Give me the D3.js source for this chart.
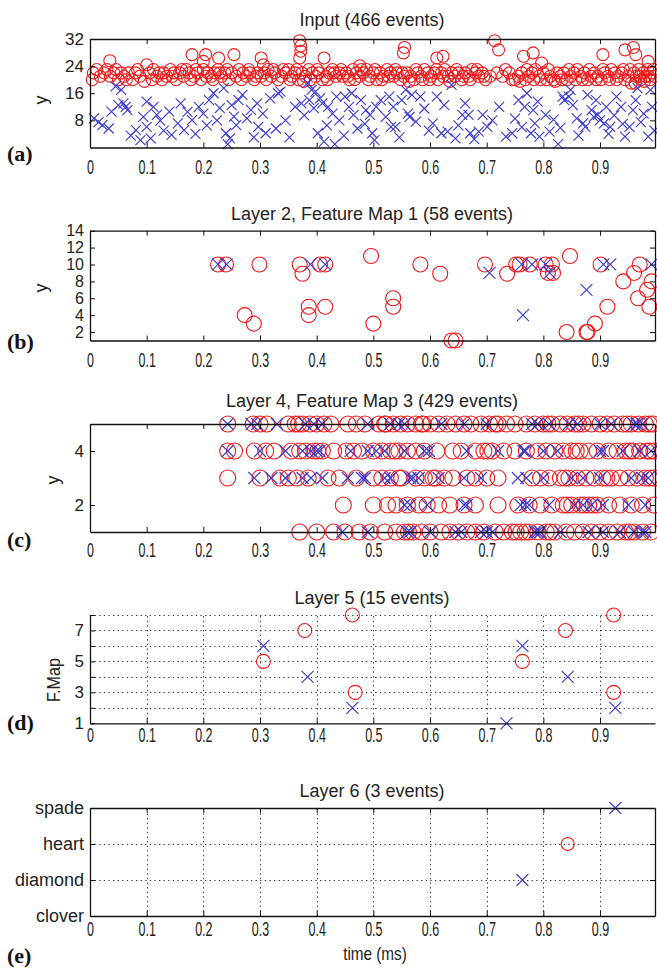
<!DOCTYPE html>
<html>
<head>
<meta charset="utf-8">
<script src="https://cdn.jsdelivr.net/npm/d3@7"></script>
<style>
  body { margin: 0; background: #fff; }
  text { font-family: "Liberation Sans", Arial, sans-serif; fill: #222; }
  .letter { font-family: "Liberation Serif", "Times New Roman", serif; font-weight: bold; fill: #111; }
</style>
</head>
<body>
<script>
// ---- data ----
const xTicks = [0, 0.1, 0.2, 0.3, 0.4, 0.5, 0.6, 0.7, 0.8, 0.9]

// (a) input events [time, y]
const inputOn = [
  [0.004,20],[0.006,22],[0.018,21],[0.025,22],[0.03,23],[0.036,21],[0.042,22],[0.05,20],[0.055,22],[0.06,21],
  [0.068,22],[0.075,20],[0.08,22],[0.088,21],[0.096,19.5],[0.105,22],[0.112,23],[0.118,21],[0.122,22],[0.13,22],
  [0.135,21],[0.142,23],[0.148,22],[0.152,20],[0.158,22],[0.165,21],[0.17,23],[0.175,22],[0.183,21],[0.19,22],
  [0.196,20],[0.2,23],[0.208,22],[0.214,21],[0.22,22],[0.226,23],[0.232,21],[0.238,22],[0.245,20],[0.25,22],
  [0.258,21],[0.263,23],[0.27,22],[0.276,21],[0.282,22],[0.29,20],[0.296,22],[0.302,21],[0.308,22],[0.314,23],
  [0.32,21],[0.326,22],[0.332,20],[0.338,21],[0.345,22],[0.35,23],[0.356,21],[0.362,22],[0.368,20],[0.374,22],
  [0.38,21],[0.386,23],[0.392,22],[0.398,21],[0.404,22],[0.41,20],[0.416,21],[0.422,22],[0.428,23],[0.434,21],
  [0.44,22],[0.446,21],[0.452,22],[0.458,20],[0.464,23],[0.47,22],[0.476,21],[0.482,22],[0.488,23],[0.494,21],
  [0.5,22],[0.506,20],[0.512,22],[0.518,21],[0.524,23],[0.53,22],[0.536,21],[0.542,22],[0.548,20],[0.554,21],
  [0.56,22],[0.566,21],[0.572,20],[0.578,22],[0.584,21],[0.59,23],[0.596,22],[0.602,21],[0.608,22],[0.614,20],
  [0.62,22],[0.626,23],[0.632,21],[0.638,22],[0.644,21],[0.65,22],[0.656,20],[0.662,22],[0.668,21],[0.674,23],
  [0.68,22],[0.686,21],[0.692,22],[0.698,20],[0.706,21],[0.718,22],[0.728,21],[0.74,22],[0.75,20],[0.756,21],
  [0.762,22],[0.768,20],[0.774,21],[0.78,22],[0.786,23],[0.792,21],[0.8,22],[0.806,20],[0.812,21],[0.818,20],
  [0.824,22],[0.83,21],[0.836,22],[0.842,20],[0.848,21],[0.854,22],[0.86,23],[0.866,21],[0.872,22],[0.878,20],
  [0.884,21],[0.89,22],[0.896,21],[0.902,20],[0.908,22],[0.914,21],[0.92,23],[0.926,22],[0.932,21],[0.938,22],
  [0.944,20],[0.95,21],[0.955,19],[0.96,22],[0.964,21],[0.968,23],[0.972,20],[0.976,22],[0.98,21],[0.984,23],
  [0.988,20],[0.992,22],[0.996,21],
  [0.012,23],[0.046,23],[0.064,20],[0.084,23],[0.11,20],[0.127,20],[0.145,21],[0.162,23],[0.178,20],[0.187,23],
  [0.205,21],[0.217,20],[0.229,22],[0.242,23],[0.267,20],[0.28,23],[0.293,21],[0.311,20],[0.323,23],[0.341,23],
  [0.353,20],[0.365,23],[0.377,19.5],[0.389,20],[0.401,23],[0.419,20],[0.431,22],[0.443,23],[0.455,21],[0.467,20],
  [0.479,23],[0.491,20],[0.503,23],[0.515,20],[0.527,21],[0.539,23],[0.551,22],[0.563,19.5],[0.575,23],[0.587,20],
  [0.599,20],[0.611,23],[0.623,21],[0.635,19.5],[0.647,23],[0.659,21],[0.671,20],[0.683,23],[0.695,21],[0.733,23],
  [0.745,20],[0.759,19.5],[0.771,23],[0.783,20],[0.795,20],[0.809,23],[0.821,19.5],[0.833,20],[0.845,23],[0.857,20],
  [0.869,20],[0.881,23],[0.893,20],[0.905,23],[0.917,20],[0.929,20],[0.941,23],[0.953,23],[0.962,19],[0.97,21],
  [0.978,19.5],[0.986,21],[0.994,23],
  [0.035,25.6],[0.1,24.4],[0.18,27.4],[0.204,27.4],[0.2,25.4],[0.227,26.4],[0.254,27.4],[0.302,26.4],[0.306,24.4],
  [0.37,31.5],[0.372,30],[0.372,28.4],[0.37,26.4],[0.413,26.4],[0.476,24.1],[0.553,27.9],[0.555,29.5],[0.612,26.4],
  [0.623,26.9],[0.714,31.5],[0.721,28.8],[0.765,26.9],[0.782,27.9],[0.797,24.9],[0.905,27.4],[0.944,28.8],
  [0.959,29.5],[0.963,27.4],[0.985,25.4]
]
const inputOff = [
  [0.007,8.6],[0.022,6.6],[0.038,10.6],[0.055,17],[0.063,12],[0.059,13],[0.066,11],[0.033,5.6],[0.081,5.1],[0.089,2.2],
  [0.1,6.1],[0.107,2.7],[0.1,13.5],[0.124,7.9],[0.118,9.6],[0.14,10.6],[0.144,3.7],[0.155,7.1],[0.166,5.1],[0.18,8.1],
  [0.192,12],[0.2,10],[0.21,14],[0.218,16],[0.229,11.6],[0.236,17.5],[0.24,4.2],[0.247,2.7],[0.243,1],[0.254,9.1],
  [0.258,6.6],[0.269,15.5],[0.277,8.6],[0.284,11.1],[0.295,13],[0.297,6.1],[0.31,4.2],[0.328,5.6],[0.332,16],[0.336,16.5],
  [0.362,12],[0.373,13],[0.384,19],[0.387,14],[0.391,17],[0.395,11.6],[0.402,4.2],[0.406,14.5],[0.413,1.7],[0.42,12],
  [0.428,10],[0.432,1],[0.435,15],[0.45,15],[0.457,12],[0.465,9.6],[0.472,5.6],[0.478,14],[0.487,11],[0.494,9.6],
  [0.502,2.2],[0.498,4.2],[0.513,14],[0.531,6.1],[0.535,12],[0.539,6.1],[0.55,14],[0.557,17],[0.561,10],[0.564,9],
  [0.575,7.6],[0.583,15],[0.605,7.1],[0.612,15],[0.62,4.2],[0.631,4.7],[0.638,18.5],[0.645,2.7],[0.657,9.6],[0.668,9.6],
  [0.671,4.2],[0.686,4.7],[0.693,9.6],[0.701,6.1],[0.734,3.2],[0.745,4.2],[0.756,14],[0.767,12],[0.771,16],[0.782,11],
  [0.785,7.1],[0.778,4.2],[0.793,3.2],[0.804,9.6],[0.811,4.7],[0.826,1],[0.834,15],[0.837,14],[0.845,15],[0.848,17],
  [0.859,8.6],[0.87,7.1],[0.874,6.1],[0.878,15.5],[0.885,11],[0.889,9],[0.896,9.6],[0.9,8.1],[0.907,7.1],[0.911,12],
  [0.918,6.1],[0.929,15],[0.937,12],[0.944,3.2],[0.952,6.1],[0.963,14],[0.966,17.5],[0.977,10],[0.985,3.2],[0.992,12],
  [0.989,17],
  [0.015,7.5],[0.045,18],[0.05,12.5],[0.072,3.5],[0.094,9],[0.112,12],[0.13,5],[0.16,13],[0.172,10.5],[0.186,4],
  [0.206,6.5],[0.224,8],[0.25,12.5],[0.262,14],[0.289,3],[0.305,10],[0.318,14.5],[0.345,8],[0.352,3],[0.378,9.5],
  [0.398,16.5],[0.41,13],[0.418,6.5],[0.44,8],[0.448,3.5],[0.462,16],[0.485,7],[0.505,12],[0.522,9],[0.528,15],
  [0.546,3],[0.568,15.5],[0.59,11.5],[0.598,5],[0.625,12.5],[0.65,6.5],[0.662,13],[0.678,2.5],[0.71,8],[0.722,12],
  [0.75,8.5],[0.762,6],[0.79,13.5],[0.818,8.2],[0.83,5.8],[0.852,12.5],[0.862,3.5],[0.893,14],[0.915,4],[0.925,9.5],
  [0.94,7],[0.958,11],[0.972,7.5],[0.996,5]
]

// (b) layer 2, feature map 1
const l2On = [
  [0.226,10],[0.24,10],[0.299,10],[0.37,10],[0.375,8.9],[0.406,10],[0.415,10],[0.386,5],[0.386,4],[0.415,5],
  [0.273,4],[0.289,3],[0.496,11],[0.5,3],[0.535,6],[0.535,5],[0.583,10],[0.618,8.9],[0.638,1],[0.645,1],
  [0.697,10],[0.736,8.9],[0.752,10],[0.758,10],[0.776,10],[0.804,10],[0.815,10],[0.808,9],[0.817,9],[0.841,2],
  [0.847,11],[0.876,2],[0.878,2],[0.891,3],[0.901,10],[0.913,5],[0.941,8],[0.96,9],[0.97,10],[0.967,6],
  [0.983,7],[0.987,5],[0.991,8]
]
const l2Off = [
  [0.226,10],[0.241,10],[0.389,10],[0.415,10],[0.705,9],[0.762,10],[0.78,10],[0.804,10],[0.811,9],[0.764,4],
  [0.876,7],[0.906,10],[0.918,10],[0.991,10]
]

// (c) layer 4, feature map 3: event times per y row
const l4On5 = [0.243,0.288,0.3,0.312,0.35,0.362,0.375,0.388,0.4,0.413,0.425,0.455,0.47,0.485,0.51,0.522,0.535,0.548,0.56,0.575,
  0.588,0.6,0.615,0.63,0.645,0.66,0.672,0.69,0.705,0.72,0.735,0.75,0.77,0.785,0.8,0.815,0.83,0.842,0.855,0.87,0.885,0.9,
  0.912,0.925,0.94,0.955,0.968,0.98,0.993,0.368,0.52,0.585,0.715,0.808,0.862,0.948,0.987]
const l4Off5 = [0.243,0.285,0.295,0.33,0.38,0.395,0.41,0.49,0.53,0.545,0.555,0.62,0.66,0.7,0.78,0.79,0.81,0.845,0.86,0.9,
  0.92,0.96,0.965,0.975]
const l4On4 = [0.243,0.255,0.29,0.31,0.325,0.355,0.37,0.38,0.395,0.41,0.43,0.452,0.465,0.48,0.5,0.515,0.53,0.545,0.56,0.575,
  0.59,0.612,0.64,0.655,0.68,0.695,0.71,0.73,0.75,0.77,0.79,0.805,0.82,0.835,0.85,0.865,0.88,0.895,0.915,0.93,0.945,0.958,
  0.97,0.982,0.995,0.402,0.538,0.702,0.858,0.952,0.988]
const l4Off4 = [0.243,0.3,0.345,0.375,0.39,0.4,0.405,0.46,0.49,0.505,0.52,0.555,0.59,0.598,0.665,0.72,0.765,0.768,0.8,0.825,
  0.9,0.905,0.94,0.97,0.99]
const l4On3 = [0.243,0.3,0.335,0.35,0.365,0.385,0.42,0.44,0.47,0.5,0.515,0.53,0.55,0.575,0.59,0.605,0.625,0.64,0.665,0.68,
  0.7,0.72,0.78,0.795,0.81,0.83,0.845,0.86,0.875,0.89,0.905,0.92,0.935,0.95,0.965,0.98,0.995,0.545,0.61,0.838,0.912,0.988]
const l4Off3 = [0.29,0.32,0.345,0.375,0.39,0.41,0.455,0.48,0.485,0.52,0.53,0.565,0.57,0.58,0.615,0.66,0.69,0.755,0.77,0.8,
  0.85,0.87,0.9,0.955,0.975,0.985]
const l4On2 = [0.447,0.5,0.525,0.54,0.56,0.58,0.595,0.615,0.635,0.66,0.68,0.72,0.755,0.775,0.795,0.815,0.835,0.85,0.865,0.88,
  0.895,0.915,0.935,0.955,0.975,0.995,0.842,0.872,0.888]
const l4Off2 = [0.555,0.565,0.595,0.66,0.665,0.76,0.768,0.775,0.81,0.855,0.87,0.885,0.905,0.95,0.98]
const l4On1 = [0.37,0.4,0.43,0.45,0.475,0.495,0.52,0.54,0.555,0.57,0.585,0.6,0.62,0.635,0.65,0.665,0.68,0.695,0.715,0.73,
  0.745,0.76,0.775,0.79,0.805,0.82,0.84,0.855,0.87,0.885,0.9,0.915,0.93,0.945,0.96,0.975,0.99,0.562,0.752,0.768,0.812,0.952]
const l4Off1 = [0.445,0.49,0.56,0.565,0.6,0.645,0.655,0.69,0.7,0.71,0.785,0.79,0.795,0.83,0.88,0.905,0.935,0.96,0.975,0.98]

// (d) layer 5 [time, feature map]
const l5On = [[0.463,8],[0.379,7],[0.306,5],[0.468,3],[0.839,7],[0.763,5],[0.924,8],[0.924,3]]
const l5Off = [[0.306,6],[0.384,4],[0.463,2],[0.735,1],[0.763,6],[0.843,4],[0.927,2]]

// (e) layer 6
const suits = ["clover", "diamond", "heart", "spade"]
const l6On = [[0.843,"heart"]]
const l6Off = [[0.763,"diamond"],[0.927,"spade"]]

// ---- drawing ----
const width = 657, height = 968
const left = 90, right = 655
const svg = d3.select("body").append("svg")
  .attr("width", width)
  .attr("height", height)

const x = d3.scaleLinear().domain([0, 0.997]).range([left, right])
const tickFmt = d => d === 0 ? "0" : d3.format(".1f")(d)
const red = "#f01818", blue = "#3838d0"

function rowsOf(list) {
  let out = []
  list.forEach(([yv, times]) => times.forEach(t => out.push([t, yv])))
  return out
}

function panel(p) {
  let g = svg.append("g")
  let y = p.y

  // dotted grid
  if (p.gridY) {
    g.append("g").selectAll("line")
      .data(xTicks.slice(1))
      .join("line")
      .attr("x1", d => Math.round(x(d)) + 0.5).attr("x2", d => Math.round(x(d)) + 0.5)
      .attr("y1", p.bottom).attr("y2", p.top)
      .attr("stroke", "#333").attr("stroke-width", 1).attr("stroke-dasharray", "1.3,3.3")
    g.append("g").selectAll("line")
      .data(p.gridY)
      .join("line")
      .attr("x1", left).attr("x2", right)
      .attr("y1", d => Math.round(y(d)) + 0.5).attr("y2", d => Math.round(y(d)) + 0.5)
      .attr("stroke", "#333").attr("stroke-width", 1).attr("stroke-dasharray", "1.3,3.3")
  }

  // markers
  g.append("g").selectAll("circle")
    .data(p.on)
    .join("circle")
    .attr("cx", d => x(d[0]))
    .attr("cy", d => y(d[1]))
    .attr("r", p.r)
    .attr("fill", "none")
    .attr("stroke", red)
    .attr("stroke-width", 1.1)
  let s = p.cs
  g.append("g").selectAll("path")
    .data(p.off)
    .join("path")
    .attr("transform", d => `translate(${x(d[0])},${y(d[1])})`)
    .attr("d", `M${-s},${-s}L${s},${s}M${-s},${s}L${s},${-s}`)
    .attr("fill", "none")
    .attr("stroke", blue)
    .attr("stroke-width", 1.1)

  // axes, ticks pointing inward
  let bottomAx = g.append("g")
    .attr("transform", `translate(0,${p.bottom})`)
    .attr("color", "#111")
    .call(d3.axisBottom(x).tickValues(xTicks).tickSize(-5).tickSizeOuter(0).tickFormat(tickFmt))
  bottomAx.selectAll("text")
    .attr("y", p.xLabOff).attr("dy", null)
    .attr("transform", "scale(0.64,1)")
    .style("font-size", "19.5px")

  let leftAx = g.append("g")
    .attr("transform", `translate(${left},0)`)
    .attr("color", "#111")
    .call(d3.axisLeft(y).tickValues(p.yTicks).tickSize(-5).tickSizeOuter(0).tickPadding(6)
      .tickFormat(p.yFmt || (d => d)))
  leftAx.selectAll("text").style("font-size", p.ySize + "px")

  if (p.box) {
    g.append("g")
      .attr("transform", `translate(0,${p.top})`)
      .attr("color", "#111")
      .call(d3.axisTop(x).tickValues(xTicks).tickSize(-5).tickSizeOuter(0).tickFormat(""))
    g.append("g")
      .attr("transform", `translate(${right},0)`)
      .attr("color", "#111")
      .call(d3.axisRight(y).tickValues(p.yTicks).tickSize(-5).tickSizeOuter(0).tickFormat(""))
  }
  g.selectAll(".domain").attr("stroke-width", 1.3)

  // texts
  g.append("text")
    .attr("x", 372).attr("y", p.titleY)
    .attr("text-anchor", "middle")
    .style("font-size", "18px")
    .text(p.title)
  g.append("text")
    .attr("class", "letter")
    .attr("x", 7).attr("y", p.letterY)
    .style("font-size", "22px")
    .text(p.letter)
  if (p.yLabel) {
    g.append("text")
      .attr("transform", `translate(${p.yLabX},${p.yLabY}) rotate(-90) scale(${p.yLabSx || 1},1)`)
      .attr("text-anchor", "middle")
      .style("font-size", p.yLabSize + "px")
      .text(p.yLabel)
  }
  if (p.xLabel) {
    g.append("text")
      .attr("transform", `translate(375,${p.xLabY}) scale(0.85,1)`)
      .attr("text-anchor", "middle")
      .style("font-size", "18px")
      .text(p.xLabel)
  }
}

panel({
  top: 39, bottom: 147.5,
  y: d3.scaleLinear().domain([0, 32]).range([147.5, 39]),
  yTicks: [8, 16, 24, 32], ySize: 17,
  on: inputOn, off: inputOff, r: 6, cs: 5,
  box: true, xLabOff: 26.5,
  title: "Input (466 events)", titleY: 26,
  letter: "(a)", letterY: 161,
  yLabel: "y", yLabX: 46.6, yLabY: 100, yLabSize: 18
})

panel({
  top: 230.7, bottom: 340.5,
  y: d3.scaleLinear().domain([1, 14]).range([340.5, 230.7]),
  yTicks: [2, 4, 6, 8, 10, 12, 14], ySize: 16,
  on: l2On, off: l2Off, r: 7.5, cs: 6,
  box: true, xLabOff: 26.5,
  title: "Layer 2, Feature Map 1 (58 events)", titleY: 220,
  letter: "(b)", letterY: 349,
  yLabel: "y", yLabX: 46.6, yLabY: 288, yLabSize: 18
})

panel({
  top: 424, bottom: 532,
  y: d3.scaleLinear().domain([1, 5]).range([532, 424]),
  yTicks: [2, 4], ySize: 17,
  on: rowsOf([[5, l4On5], [4, l4On4], [3, l4On3], [2, l4On2], [1, l4On1]]),
  off: rowsOf([[5, l4Off5], [4, l4Off4], [3, l4Off3], [2, l4Off2], [1, l4Off1]]),
  r: 8, cs: 6,
  box: true, xLabOff: 25,
  title: "Layer 4, Feature Map 3 (429 events)", titleY: 407,
  letter: "(c)", letterY: 547,
  yLabel: "y", yLabX: 59, yLabY: 480, yLabSize: 18
})

panel({
  top: 615, bottom: 723.3,
  y: d3.scaleLinear().domain([1, 8]).range([723.3, 615]),
  yTicks: [1, 2, 3, 4, 5, 6, 7, 8], ySize: 17, yFmt: d => d % 2 ? d : "",
  gridY: [2, 3, 4, 5, 6, 7, 8],
  on: l5On, off: l5Off, r: 7, cs: 6,
  box: false, xLabOff: 18.7,
  title: "Layer 5 (15 events)", titleY: 604,
  letter: "(d)", letterY: 730,
  yLabel: "F.Map", yLabX: 60, yLabY: 680, yLabSize: 19, yLabSx: 0.85
})

panel({
  top: 808, bottom: 916,
  y: d3.scalePoint().domain(suits).range([916, 808]),
  yTicks: suits, ySize: 18,
  gridY: ["diamond", "heart"],
  on: l6On, off: l6Off, r: 6.5, cs: 6,
  box: true, xLabOff: 20.5,
  title: "Layer 6 (3 events)", titleY: 796.5,
  letter: "(e)", letterY: 963,
  xLabel: "time (ms)", xLabY: 960
})
</script>
</body>
</html>
